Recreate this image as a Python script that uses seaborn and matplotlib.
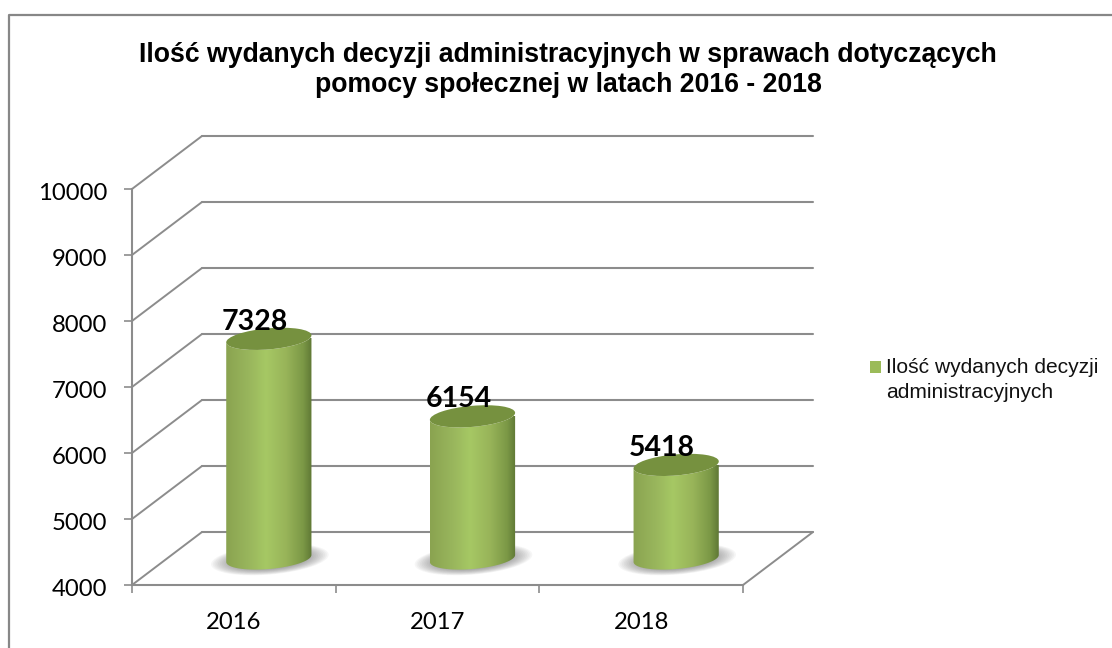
import numpy as np
import seaborn as sns
import matplotlib
matplotlib.use("Agg")
import matplotlib.pyplot as plt
from matplotlib.colors import LinearSegmentedColormap
from matplotlib.lines import Line2D
from matplotlib.patches import Ellipse, PathPatch, Patch
from matplotlib.path import Path
from matplotlib.transforms import Affine2D, IdentityTransform

# values
years = ["2016", "2017", "2018"]
decisions = [7328, 6154, 5418]
y_ticks = [4000, 5000, 6000, 7000, 8000, 9000, 10000]
title = "Ilość wydanych decyzji administracyjnych w sprawach dotyczących\npomocy społecznej w latach 2016 - 2018"
legend_label = "Ilość wydanych decyzji\nadministracyjnych"

W, H = 1112, 648
GRID = "#8c8c8c"
DEPTH_X, DEPTH_Y = 70, 53  # 3d box depth in pixels

sns.set_theme(style="white")
plt.rcParams["font.family"] = ["Liberation Sans", "DejaVu Sans"]

fig = plt.figure(figsize=(W / 100, H / 100), dpi=100, facecolor="white")
ax = fig.add_axes([132 / W, 1 - 585 / H, 611 / W, 396 / H])

df = {"year": years, "n": decisions}
sns.barplot(data=df, x="year", y="n", width=0.42, color="#9bbb59", ax=ax, zorder=3)
ax.set_xlim(-0.5, 2.5)
ax.set_ylim(4000, 10000)
ax.set_xlabel("")
ax.set_ylabel("")
ax.patch.set_alpha(0)

# outer frame, runs off the right and bottom edge of the picture
fig.add_artist(Line2D([9 / W, 9 / W, 1], [0, 1 - 15 / H, 1 - 15 / H], color="#878787", lw=1.6))

# walls and floor of the fake 3d box
back = ax.transData + Affine2D().translate(DEPTH_X, DEPTH_Y)
for t in y_ticks:
    ax.plot([-0.5, 2.5], [t, t], color=GRID, lw=1.5, transform=back, clip_on=False, zorder=1)
    x0, y0 = ax.transData.transform((-0.5, t))
    ax.add_line(Line2D([x0, x0 + DEPTH_X], [y0, y0 + DEPTH_Y], color=GRID, lw=1.4,
                       transform=IdentityTransform(), clip_on=False, zorder=1))
x1, y1 = ax.transData.transform((2.5, 4000))
ax.add_line(Line2D([x1, x1 + DEPTH_X], [y1, y1 + DEPTH_Y], color=GRID, lw=1.4,
                   transform=IdentityTransform(), clip_on=False, zorder=1))

for side in ["top", "right"]:
    ax.spines[side].set_visible(False)
for side in ["left", "bottom"]:
    ax.spines[side].set_color(GRID)
    ax.spines[side].set_linewidth(1.5)

ax.set_yticks(y_ticks)
ax.set_yticklabels([str(t) for t in y_ticks], fontfamily="Lato", fontsize=17.2, color="black")
ax.tick_params(axis="y", which="major", left=True, length=5.8, width=1.2, color=GRID, pad=12)
for lab in ax.get_yticklabels():
    lab.set_transform(lab.get_transform() + Affine2D().translate(0, -2))
ax.set_xticks([0, 1, 2])
ax.set_xticklabels(years, fontfamily="Lato", fontsize=17.2, color="black")
ax.set_xticks([-0.5, 0.5, 1.5, 2.5], minor=True)
ax.tick_params(axis="x", which="major", bottom=False, pad=13.5)
ax.tick_params(axis="x", which="minor", bottom=True, length=5.8, width=1.2, color=GRID)

# turn the flat seaborn bars into shaded cylinders
shade = LinearSegmentedColormap.from_list(
    "cyl", [(0, "#8aa350"), (0.25, "#98b55c"), (0.47, "#a6c864"), (0.7, "#98b459"),
            (0.9, "#7b9846"), (1, "#5f7835")])
grad = np.linspace(0, 1, 256).reshape(1, -1)
TILT = 5
mid = Affine2D().translate(DEPTH_X / 2, DEPTH_Y / 2)

for i, (bar, v) in enumerate(zip(ax.patches, decisions)):
    bar.set_visible(False)
    left = bar.get_x()
    right = left + bar.get_width()
    xa, ytop = (ax.transData + mid).transform((left, v))
    xb, ybot = (ax.transData + mid).transform((right, 4000))
    cx = (xa + xb) / 2
    w = xb - xa

    # soft shadow under the base
    for k in range(14):
        s = 1 - k * 0.03
        ax.add_patch(Ellipse((cx + 1, ybot - 1), 118 * s, 30 * s, angle=TILT, color="#666666",
                             alpha=0.06, lw=0, transform=IdentityTransform(),
                             clip_on=False, zorder=2))

    # body outline: two half ellipses joined by straight sides
    theta = np.radians(np.linspace(180, 360, 40))
    a, b = w / 2, 10.5
    rot = np.radians(TILT)
    ex = a * np.cos(theta)
    ey = b * np.sin(theta)
    bx = cx + ex * np.cos(rot) - ey * np.sin(rot)
    by = ybot + ex * np.sin(rot) + ey * np.cos(rot)
    tx = cx + ex[::-1] * np.cos(rot) - ey[::-1] * np.sin(rot)
    ty = ytop + ex[::-1] * np.sin(rot) + ey[::-1] * np.cos(rot)
    pts = np.column_stack([np.r_[bx, tx], np.r_[by, ty]])
    body = PathPatch(Path(np.vstack([pts, pts[0]]), closed=True), transform=IdentityTransform(),
                     fc="none", ec="none")
    ax.add_patch(body)
    body.set_clip_on(False)

    im = ax.imshow(grad, cmap=shade, aspect="auto", extent=(left, right, 4000 - 400, v),
                   transform=ax.transData + mid, zorder=3, interpolation="bilinear")
    im.set_clip_box(fig.bbox)
    im.set_clip_path(body)

    ax.add_patch(Ellipse((cx, ytop), w, 2 * b, angle=TILT, fc="#76913f", ec="none",
                         transform=IdentityTransform(), clip_on=False, zorder=4))

    ax.annotate(str(v), xy=(i, v), xytext=(21 * 0.72, 43.5 * 0.72), textcoords="offset points",
                ha="center", va="center", fontfamily="Lato", fontweight="bold", fontsize=20.5,
                color="black", zorder=5, annotation_clip=False)

ax.set_xlim(-0.5, 2.5)
ax.set_ylim(4000, 10000)

fig.text(568 / W, 1 - 70 / H, title, ha="center", va="center", fontsize=19.2, fontweight="bold",
         color="black", linespacing=1.16)

handle = Patch(facecolor="#9bbb59", edgecolor="none")
leg = fig.legend([handle], [legend_label], loc="upper left", bbox_to_anchor=(870 / W, 1 - 358 / H),
                 frameon=False, fontsize=15.1, handlelength=0.52, handleheight=0.52, handletextpad=0.24,
                 borderpad=0, borderaxespad=0, labelspacing=0, labelcolor="#111111")
leg.get_texts()[0].set_linespacing(1.42)
p = leg.get_patches()[0]
p.set_y(p.get_y() + 13 * 0.72)

fig.savefig("out.png", dpi=100)
